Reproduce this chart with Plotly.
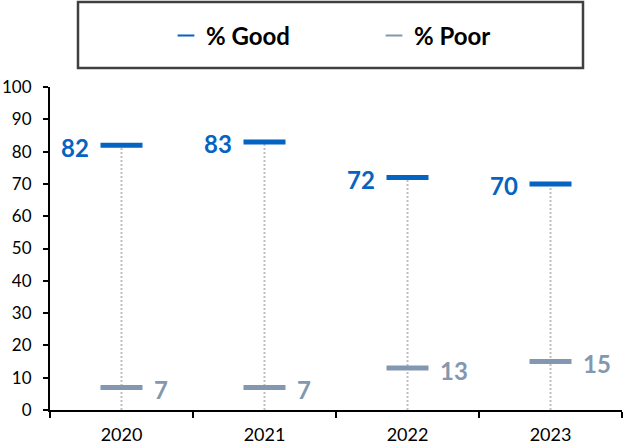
import plotly.graph_objects as go

years = ["2020", "2021", "2022", "2023"]
good = [82, 83, 72, 70]
poor = [7, 7, 13, 15]
y_ticks = [0, 10, 20, 30, 40, 50, 60, 70, 80, 90, 100]

GOOD_C = "#0563C1"
POOR_C = "#8497B0"
DROP_C = "#BFBFBF"
FONT = "Lato"

fig = go.Figure()

# dotted drop lines from 0 to the Good value
dx, dy = [], []
for yr, g in zip(years, good):
    dx += [yr, yr, None]
    dy += [0, g, None]
fig.add_trace(go.Scatter(x=dx, y=dy, mode="lines", showlegend=False, hoverinfo="skip",
                         line=dict(color=DROP_C, width=2, dash="2px,2px")))

fig.add_trace(go.Scatter(x=years, y=good, mode="markers", name="<b>% Good</b>", hoverinfo="skip",
                         marker=dict(symbol="line-ew", size=30,
                                     line=dict(color=GOOD_C, width=5))))
fig.add_trace(go.Scatter(x=years, y=poor, mode="markers", name="<b>% Poor</b>", hoverinfo="skip",
                         marker=dict(symbol="line-ew", size=30,
                                     line=dict(color=POOR_C, width=5))))

annotations = []
for i, g in enumerate(good):
    annotations.append(dict(x=i, y=g, text=f"<b>{g}</b>", showarrow=False,
                            xanchor="right", yanchor="middle", xshift=-31, yshift=-2,
                            font=dict(family=FONT, size=24, color=GOOD_C)))
for i, p in enumerate(poor):
    annotations.append(dict(x=i, y=p, text=f"<b>{p}</b>", showarrow=False,
                            xanchor="left", yanchor="middle", xshift=30, yshift=-2,
                            font=dict(family=FONT, size=24, color=POOR_C)))

fig.update_layout(
    width=623, height=448,
    margin=dict(l=50, r=1, t=87, b=38),
    paper_bgcolor="white", plot_bgcolor="white",
    font=dict(family=FONT, size=16, color="#000000"),
    annotations=annotations,
    showlegend=True,
    legend=dict(orientation="h", xref="container", yref="container",
                x=374 / 623, y=1 - 36 / 448, xanchor="center", yanchor="middle",
                font=dict(family=FONT, size=24, color="#000000"),
                itemsizing="constant",
                bgcolor="rgba(0,0,0,0)", entrywidth=163),
    shapes=[dict(type="rect", xref="paper", yref="paper",
                 x0=(78 - 50) / 572, x1=(583 - 50) / 572,
                 y0=(410 - 68) / 323, y1=(410 - 2) / 323,
                 line=dict(color="#404040", width=2.5), fillcolor="rgba(0,0,0,0)")],
    xaxis=dict(type="category", range=[-0.5, 3.5], showgrid=False, zeroline=False,
               showline=True, linecolor="#000000", linewidth=2, automargin=False,
               ticks="outside", tickson="boundaries", ticklen=6, tickwidth=2, tickcolor="#000000",
               tickfont=dict(family=FONT, size=18, color="#000000"), ticklabelstandoff=7),
    yaxis=dict(range=[0, 100], tickvals=y_ticks, showgrid=False, zeroline=False,
               showline=True, linecolor="#000000", linewidth=2, automargin=False,
               ticks="outside", ticklen=5, tickwidth=2, tickcolor="#000000",
               tickfont=dict(family=FONT, size=17, color="#000000"), ticklabelstandoff=8),
)

fig.write_html("out.html", config={"displayModeBar": False},
               post_script="document.body.style.margin='0';")
